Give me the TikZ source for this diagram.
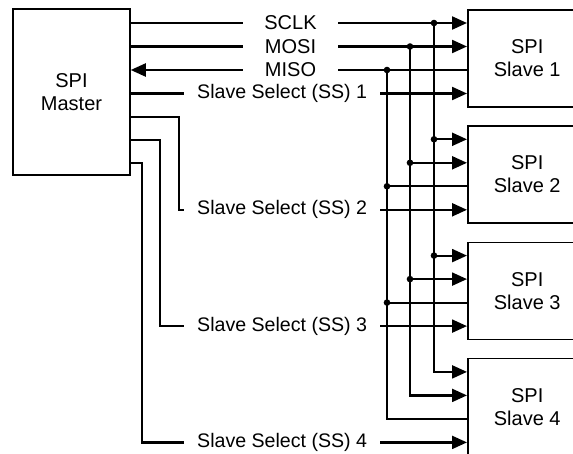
\documentclass[tikz,border=0pt]{standalone}
\usepackage{fontspec}
\setmainfont{Liberation Sans}
\usetikzlibrary{positioning,arrows.meta,calc}

\begin{document}
\begin{tikzpicture}[x=1pt, y=-1pt,
  chip/.style={rectangle, draw, line width=1.5pt, inner sep=0pt, align=center,
    font=\fontsize{20}{23}\selectfont},
  buslbl/.style={inner sep=0pt, minimum width=95pt, minimum height=20pt,
    font=\fontsize{20}{23}\selectfont},
  sslbl/.style={inner xsep=13pt, inner ysep=0pt, anchor=west,
    font=\fontsize{19.6}{23}\selectfont},
  wire/.style={line width=2.2pt},
  warr/.style={wire, -{Triangle[length=15pt, width=13pt]}},
]
\useasboundingbox (0,0) rectangle (573,453);
\clip (0,0) rectangle (573,453);
% Master
\node[chip, minimum width=117pt, minimum height=166pt] (master) at (71.5,92) {SPI\\Master};
% Slaves and their inputs
\foreach \i in {1,...,4} {
  \node[chip, anchor=north west, minimum width=119pt, minimum height=97pt]
    (s\i) at (467, {9+(\i-1)*116.3}) {SPI\\Slave \i};
  \coordinate (s\i-clk) at ([yshift=-14pt]s\i.north west);
  \coordinate (s\i-mosi) at ([yshift=-37.5pt]s\i.north west);
  \coordinate (s\i-miso) at ([yshift=-61pt]s\i.north west);
  \coordinate (s\i-ss) at ([yshift=-84.5pt]s\i.north west);
  \node[sslbl] (ss\i) at (184,0 |- s\i-ss) {Slave Select (SS) \i};
}
% Bus labels
\node[buslbl] (lclk) at (290.5,0 |- s1-clk) {SCLK};
\node[buslbl] (lmosi) at (290.5,0 |- s1-mosi) {MOSI};
\node[buslbl] (lmiso) at (290.5,0 |- s1-miso) {MISO};
\coordinate (bclk) at (434,0);
\coordinate (bmosi) at (410,0);
\coordinate (bmiso) at (387,0);
% Master to slave 1
\draw[wire] (master.east |- lclk) -- (lclk.west);
\draw[warr] (lclk.east) -- (s1-clk);
\draw[wire] (master.east |- lmosi) -- (lmosi.west);
\draw[warr] (lmosi.east) -- (s1-mosi);
\draw[warr] (lmiso.west) -- (master.east |- lmiso);
\draw[wire] (s1-miso) -- (lmiso.east);
\draw[wire] (master.east |- ss1) -- (ss1.west);
% Select lines
\draw[wire] (master.east |- 0,117) -| ([xshift=-5pt]ss2.west) -- (ss2.west);
\draw[wire] (master.east |- 0,140) -| ([xshift=-24pt]ss3.west) -- (ss3.west);
\draw[wire] (master.east |- 0,163) -| ([xshift=-42pt]ss4.west) -- (ss4.west);
\foreach \i in {1,...,4}
  \draw[warr] (ss\i.east) -- (s\i-ss);
% Buses
\draw[warr] (bclk |- s1-clk) |- (s4-clk);
\draw[warr] (bmosi |- s1-mosi) |- (s4-mosi);
\draw[wire] (bmiso |- s1-miso) |- (s4-miso);
\foreach \i in {2,3} {
  \draw[warr] (bclk |- s\i-clk) -- (s\i-clk);
  \draw[warr] (bmosi |- s\i-mosi) -- (s\i-mosi);
  \draw[wire] (bmiso |- s\i-miso) -- (s\i-miso);
}
% Junction dots
\foreach \i in {1,2,3}
  \foreach \b/\s in {bclk/clk, bmosi/mosi, bmiso/miso}
    \fill (\b |- s\i-\s) circle (3.3pt);
\end{tikzpicture}
\end{document}
